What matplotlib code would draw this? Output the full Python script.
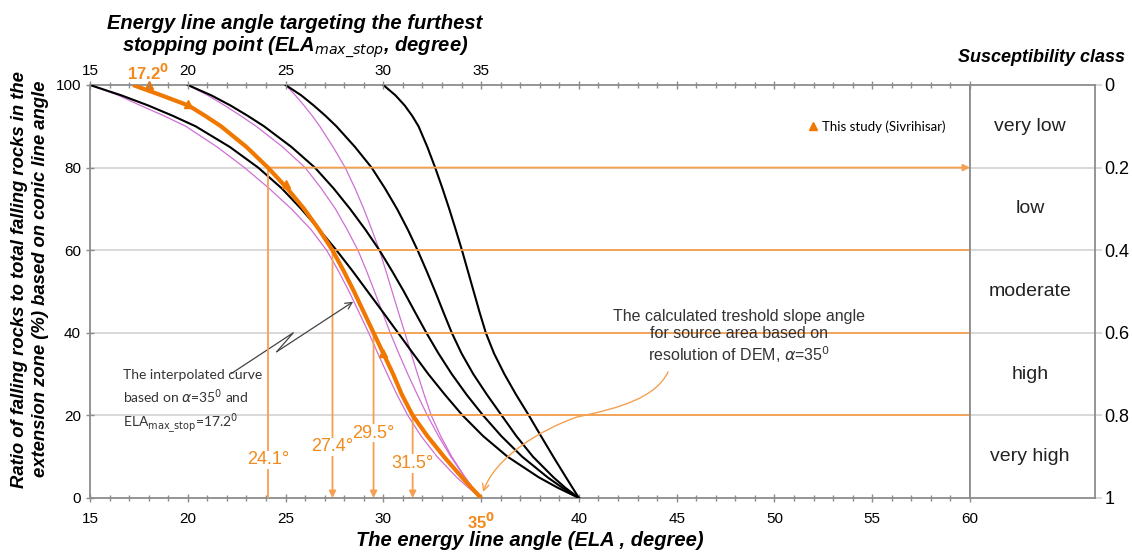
import matplotlib.pyplot as plt
from matplotlib.path import Path
from matplotlib.patches import FancyArrowPatch
from matplotlib.lines import Line2D

# ratio of falling rocks (%) at which the curves were read
ratio = [100, 97.5, 95, 92.5, 90, 85, 80, 75, 70, 65, 60, 55, 50, 45, 40, 35, 30, 25, 20, 15, 10, 5, 2.5, 0]

# black curves, all ending at alpha = 40
black_15 = [15.0, 16.6, 18.0, 19.25, 20.4, 22.15, 23.6, 24.8, 25.8, 26.72, 27.6, 28.42, 29.2, 29.98, 30.75, 31.52, 32.3, 33.15, 34.05, 35.1, 36.35, 37.95, 38.91, 40.0]
black_20 = [20.0, 21.2, 22.2, 23.08, 23.9, 25.3, 26.5, 27.45, 28.3, 29.08, 29.8, 30.44, 31.05, 31.62, 32.2, 32.82, 33.5, 34.26, 35.1, 36.03, 37.1, 38.4, 39.15, 40.0]
black_25 = [25.0, 25.8, 26.45, 27.05, 27.6, 28.55, 29.4, 30.08, 30.7, 31.25, 31.75, 32.21, 32.65, 33.07, 33.5, 34.0, 34.6, 35.3, 36.05, 36.8, 37.65, 38.7, 39.3, 40.0]
black_30 = [30.0, 30.62, 31.1, 31.48, 31.8, 32.25, 32.65, 33.02, 33.37, 33.7, 34.02, 34.32, 34.62, 34.92, 35.24, 35.66, 36.19, 36.79, 37.44, 38.06, 38.69, 39.34, 39.67, 40.0]

# purple curves, ending at alpha = 35
purple_15 = [15.0, 16.45, 17.6, 18.8, 19.9, 21.5, 22.9, 24.15, 25.3, 26.3, 27.1, 27.7, 28.25, 28.75, 29.25, 29.72, 30.2, 30.7, 31.25, 31.93, 32.75, 33.75, 34.35, 35.0]
purple_20 = [20.0, 21.02, 21.9, 22.72, 23.5, 24.85, 26.0, 26.82, 27.55, 28.15, 28.7, 29.14, 29.55, 29.95, 30.35, 30.79, 31.25, 31.74, 32.25, 32.82, 33.45, 34.17, 34.57, 35.0]
purple_25 = [25.0, 25.5, 25.95, 26.37, 26.75, 27.43, 28.05, 28.55, 29.0, 29.41, 29.8, 30.13, 30.45, 30.77, 31.1, 31.42, 31.75, 32.09, 32.45, 32.93, 33.5, 34.18, 34.57, 35.0]

# interpolated curve (alpha=35, ELA_max_stop=17.2)
orange_curve = [17.2, 18.65, 20.05, 20.9, 21.7, 23.0, 24.1, 25.08, 25.95, 26.71, 27.4, 27.97, 28.5, 29.0, 29.5, 30.0, 30.5, 30.95, 31.5, 32.25, 33.1, 34.02, 34.5, 35.0]

# this study (Sivrihisar) points
study_ela = [18.0, 20.0, 25.0, 30.0]
study_ratio = [100, 95.5, 76, 35]

# class limits
class_ratio = [80, 60, 40, 20]
class_ela = [24.1, 27.4, 29.5, 31.5]
class_names = ['very low', 'low', 'moderate', 'high', 'very high']
class_mid = [0.1, 0.3, 0.5, 0.7, 0.9]
susc_ticks = [0, 0.2, 0.4, 0.6, 0.8, 1]
susc_labels = ['0', '0.2', '0.4', '0.6', '0.8', '1']

bottom_ticks = [15, 20, 25, 30, 35, 40, 45, 50, 55, 60]
top_ticks = [15, 20, 25, 30, 35]

ORANGE = '#F07800'
LORANGE = '#F5A050'
TORANGE = '#F28A1E'
PURPLE = '#CF6FD6'
GRAY = '#8C8C8C'
GRID = '#D6D6D6'
arial = ['Liberation Sans', 'DejaVu Sans']
calib = ['Lato', 'DejaVu Sans']

plt.rcParams['font.family'] = arial

fig = plt.figure(figsize=(11.32, 5.53), dpi=100)
ax = fig.add_axes([0.0795, 0.0995, 0.7774, 0.7468])
axr = fig.add_axes([0.8569, 0.0995, 0.1104, 0.7468])

ax.set_xlim(15, 60)
ax.set_ylim(0, 100)
for y in class_ratio:
    ax.axhline(y, color=GRID, lw=1.3, zorder=0)

for xs in [purple_15, purple_20, purple_25]:
    ax.plot(xs, ratio, color=PURPLE, lw=0.9, zorder=2)
for xs in [black_15, black_20, black_25, black_30]:
    ax.plot(xs, ratio, color='black', lw=1.5, zorder=3)
ax.plot(orange_curve, ratio, color=ORANGE, lw=3, zorder=4, solid_capstyle='butt')
ax.plot(study_ela, study_ratio, '^', color=ORANGE, ms=6, clip_on=False, zorder=5)

# class limit lines
for i, (xe, yr) in enumerate(zip(class_ela, class_ratio)):
    if i == 0:
        ax.annotate('', xy=(60, yr), xytext=(xe, yr),
                    arrowprops=dict(arrowstyle='-|>', color=LORANGE, lw=1.3,
                                    mutation_scale=10, shrinkA=0, shrinkB=0), zorder=3)
        ax.plot([xe, xe], [yr, 0], color=LORANGE, lw=1.3, zorder=3)
    else:
        ax.plot([xe, 60], [yr, yr], color=LORANGE, lw=1.3, zorder=3)
        ax.annotate('', xy=(xe, 0), xytext=(xe, yr),
                    arrowprops=dict(arrowstyle='-|>', color=LORANGE, lw=1.3,
                                    mutation_scale=10, shrinkA=0, shrinkB=0), zorder=3)

label_y = [9.2, 12.4, 15.7, 8.4]
for xe, ly in zip(class_ela, label_y):
    ax.text(xe, ly, '%.1f°' % xe, color=TORANGE, fontsize=13, ha='center', va='center',
            bbox=dict(facecolor='white', edgecolor='none', pad=0.5), zorder=6)

# axes styling
for side in ['left', 'bottom', 'top', 'right']:
    ax.spines[side].set_color(GRAY)
    ax.spines[side].set_linewidth(1.3)
ax.set_xticks(bottom_ticks)
ax.set_xticklabels([str(t) if t != 35 else '' for t in bottom_ticks], fontsize=11)
ax.set_xticks(range(15, 61), minor=True)
ax.set_yticks([0, 20, 40, 60, 80, 100])
ax.set_yticklabels(['0', '20', '40', '60', '80', '100'], fontsize=11)
ax.tick_params(axis='both', which='major', direction='inout', length=6, color=GRAY, width=1)
ax.tick_params(axis='x', which='minor', direction='inout', length=4, color=GRAY, width=1)
ax.tick_params(axis='x', pad=7)
ax.text(35, -0.057, '35$^\\mathbf{0}$', transform=ax.get_xaxis_transform(), color=TORANGE,
        fontsize=12, fontweight='bold', ha='center', va='center')

ax2 = ax.twiny()
ax2.set_xlim(15, 60)
ax2.set_xticks(bottom_ticks)
ax2.set_xticklabels([str(t) if t in top_ticks else '' for t in bottom_ticks], fontsize=11)
ax2.set_xticks(range(15, 61), minor=True)
ax2.tick_params(axis='x', which='major', direction='inout', length=6, color=GRAY, width=1, pad=2)
ax2.tick_params(axis='x', which='minor', direction='inout', length=4, color=GRAY, width=1)
for side in ax2.spines:
    ax2.spines[side].set_visible(False)
ax.text(16.9, 1.03, '17.2$^\\mathbf{0}$', transform=ax.get_xaxis_transform(), color=TORANGE,
        fontsize=12, fontweight='bold', ha='left', va='center')

ax.set_xlabel('The energy line angle (ELA , degree)', fontsize=14.5, fontweight='bold',
              fontstyle='italic', labelpad=4)
ax.set_ylabel('Ratio of falling rocks to total falling rocks in the\nextension zone (%) based on conic line angle',
              fontsize=13.3, fontweight='bold', fontstyle='italic', linespacing=1.25)
ax.yaxis.set_label_coords(-0.047, 0.53)
fig.text(295 / 1132, 1 - 37 / 553,
         'Energy line angle targeting the furthest\nstopping point (ELA$_{max\\_stop}$, degree)',
         fontsize=14.5, fontweight='bold', fontstyle='italic', ha='center', va='center', linespacing=1.1)
fig.text(1042 / 1132, 1 - 57 / 553, 'Susceptibility class', fontsize=13, fontweight='bold',
         fontstyle='italic', ha='center', va='center')

# legend
leg = ax.legend(handles=[Line2D([], [], marker='^', color=ORANGE, ls='none', ms=6)],
                labels=['This study (Sivrihisar)'], loc='center left', bbox_to_anchor=(0.802, 0.90),
                frameon=False, handlelength=0.8, handletextpad=0.3, prop={'family': calib, 'size': 9.5})

# annotation: interpolated curve (broken arrow)
ax.text(16.67, 23.1, 'The interpolated curve\nbased on $\\alpha$=35$^0$ and\nELA$_{\\rm max\\_stop}$=17.2$^0$',
        family=calib, fontsize=10, ha='left', va='center', linespacing=1.4, color='#333333')
ax.plot([22.245, 25.40, 24.55], [30.19, 40.02, 35.42], color='#444444', lw=0.9)
ax.annotate('', xy=(28.46, 47.53), xytext=(24.55, 35.42),
            arrowprops=dict(arrowstyle='->', color='#444444', lw=0.9, shrinkA=0, shrinkB=0,
                            mutation_scale=12))

# annotation: threshold slope angle
ax.text(48.19, 39.0, 'The calculated treshold slope angle\nfor source area based on\nresolution of DEM, $\\alpha$=35$^0$',
        fontsize=11.5, ha='center', va='center', linespacing=1.2, color='#333333')
verts = [(44.56, 30.5), (43.9, 24.2), (42.1, 21.8), (39.9, 19.6),
         (38.0, 16.5), (35.7, 9.7), (35.1, 1.45)]
codes = [Path.MOVETO, Path.CURVE4, Path.CURVE4, Path.CURVE4, Path.CURVE4, Path.CURVE4, Path.CURVE4]
ax.add_patch(FancyArrowPatch(path=Path(verts, codes), arrowstyle='->', mutation_scale=12,
                             color=LORANGE, lw=1.0, zorder=5))

# susceptibility class panel
axr.set_xlim(0, 1)
axr.set_ylim(1, 0)
axr.set_xticks([])
axr.yaxis.tick_right()
axr.set_yticks(susc_ticks)
axr.set_yticklabels(susc_labels, fontsize=13)
axr.tick_params(axis='y', direction='out', length=5, color=GRID, width=1.3, pad=2)
for y in susc_ticks[1:-1]:
    axr.axhline(y, color=GRID, lw=1.3, zorder=0)
for side in axr.spines:
    axr.spines[side].set_color(GRAY)
    axr.spines[side].set_linewidth(1.3)
for name, ym in zip(class_names, class_mid):
    axr.text(0.48, ym, name, fontsize=14, ha='center', va='center', color='#222222')

fig.savefig('out.png', dpi=100)
